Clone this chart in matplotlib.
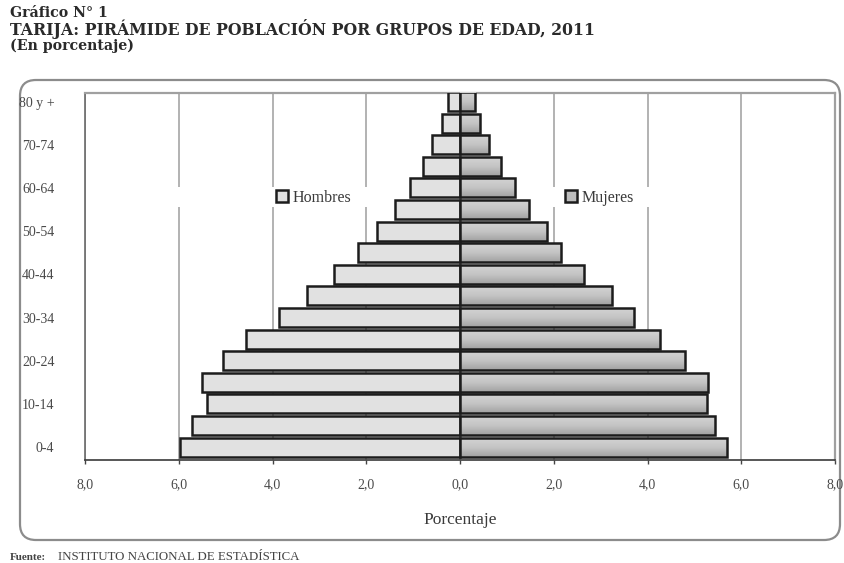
import matplotlib
matplotlib.use("Agg")
import matplotlib.pyplot as plt
from matplotlib.patches import FancyBboxPatch, Rectangle, Patch
from matplotlib.colors import LinearSegmentedColormap
import numpy as np

# Age groups (youngest first) and population share by sex, in percent
grupos = ["0-4", "5-9", "10-14", "15-19", "20-24", "25-29", "30-34", "35-39",
          "40-44", "45-49", "50-54", "55-59", "60-64", "65-69", "70-74",
          "75-79", "80 y +"]
hombres = [5.98, 5.72, 5.39, 5.50, 5.05, 4.57, 3.86, 3.27,
           2.68, 2.18, 1.78, 1.39, 1.07, 0.79, 0.59, 0.39, 0.25]
mujeres = [5.70, 5.44, 5.26, 5.29, 4.79, 4.27, 3.71, 3.24,
           2.64, 2.15, 1.85, 1.48, 1.17, 0.88, 0.62, 0.42, 0.33]

xticks = [-8, -6, -4, -2, 0, 2, 4, 6, 8]
xtick_labels = ["8,0", "6,0", "4,0", "2,0", "0,0", "2,0", "4,0", "6,0", "8,0"]

titulo1 = "Gráfico N° 1"
titulo2 = "TARIJA: PIRÁMIDE DE POBLACIÓN POR GRUPOS DE EDAD, 2011"
titulo3 = "(En porcentaje)"
fuente_lbl = "Fuente:"
fuente_txt = "INSTITUTO NACIONAL DE ESTADÍSTICA"

plt.rcParams['font.family'] = ['Liberation Serif', 'DejaVu Serif']
title_font = ['DejaVu Serif', 'Liberation Serif']

W, H = 844, 563
fig = plt.figure(figsize=(W / 100, H / 100), dpi=100)

# background canvas in pixel units for the frame and the titles
bg = fig.add_axes([0, 0, 1, 1], zorder=0)
bg.set_xlim(0, W)
bg.set_ylim(H, 0)
bg.axis("off")

frame = FancyBboxPatch((20, 80), 820, 460,
                       boxstyle="round,pad=0,rounding_size=16",
                       facecolor="white", edgecolor="#8c8c8c", linewidth=1.6)
bg.add_patch(frame)

bg.text(10, 13, titulo1, fontsize=10.2, fontweight="bold", color="#2a2a2a",
        ha="left", va="center", family=title_font)
bg.text(10, 29, titulo2, fontsize=11.3, fontweight="bold", color="#2a2a2a",
        ha="left", va="center", family=title_font)
bg.text(10, 46, titulo3, fontsize=10.2, fontweight="bold", color="#2a2a2a",
        ha="left", va="center", family=title_font)
bg.text(10, 557, fuente_lbl, fontsize=8, fontweight="bold", color="#444444",
        ha="left", va="center")
bg.text(58, 557, fuente_txt, fontsize=9.3, color="#444444",
        ha="left", va="center")

# pyramid axes
ax = fig.add_axes([85 / W, 1 - 460 / H, (835 - 85) / W, (460 - 93) / H], zorder=1)
ax.set_facecolor("none")

y = np.arange(len(grupos))
h = np.array(hombres)
m = np.array(mujeres)
bar_h = 0.88

ax.barh(y, -h, height=bar_h, color="#e1e1e1", edgecolor="#1c1c1c",
        linewidth=1.8, zorder=3)
# women's bars: outline on top, shaded fill drawn just below it
bars_m = ax.barh(y, m, height=bar_h, facecolor="none", edgecolor="#1c1c1c",
                 linewidth=1.8, zorder=3.1)

shade = LinearSegmentedColormap.from_list("shade", ["#d3d3d3", "#c4c4c4", "#a2a2a2"])
grad = np.linspace(0, 1, 64).reshape(-1, 1)
for bar in bars_m:
    x0, y0 = bar.get_x(), bar.get_y()
    bw, bh = bar.get_width(), bar.get_height()
    im = ax.imshow(grad, cmap=shade, aspect="auto", interpolation="bilinear",
                   extent=(x0, x0 + bw, y0, y0 + bh), origin="upper", zorder=3.0)
    im.set_clip_path(bar)

ax.set_xlim(-8, 8)
ax.set_ylim(-0.6, 16.4)

ax.set_xticks(xticks)
ax.set_xticklabels(xtick_labels)
ax.set_yticks(y[::2])
ax.set_yticklabels(grupos[::2])

ax.tick_params(axis="y", length=0, pad=22, labelsize=10, labelcolor="#4a4a4a")
ax.tick_params(axis="x", length=3, width=1, direction="out", pad=10,
               labelsize=10, labelcolor="#4a4a4a", color="#444444")

ax.xaxis.grid(True, color="#a6a6a6", linewidth=1.2, zorder=0.5)
ax.set_axisbelow(True)

for side in ("top", "right"):
    ax.spines[side].set_color("#a0a0a0")
    ax.spines[side].set_linewidth(1.6)
ax.spines["left"].set_color("#6a6a6a")
ax.spines["left"].set_linewidth(1.2)
ax.spines["bottom"].set_color("#3a3a3a")
ax.spines["bottom"].set_linewidth(1.2)

ax.set_xlabel("Porcentaje", fontsize=12.5, color="#3a3a3a", labelpad=15)

# white band behind the legend entries
ax.add_patch(Rectangle((-6.4, 11.1), 11.4, 0.94, facecolor="white",
                       edgecolor="none", zorder=1))

h_patch = Patch(facecolor="#e1e1e1", edgecolor="#1c1c1c", linewidth=1.8)
m_patch = Patch(facecolor="#bdbdbd", edgecolor="#1c1c1c", linewidth=1.8)

leg1 = ax.legend([h_patch], ["Hombres"], loc="center left",
                 bbox_to_anchor=(-3.93, 11.55), bbox_transform=ax.transData,
                 frameon=False, fontsize=11.5, handlelength=0.75,
                 handleheight=0.75, handletextpad=0.3, borderpad=0,
                 borderaxespad=0, labelcolor="#3a3a3a")
leg1.set_zorder(2)
ax.add_artist(leg1)
leg2 = ax.legend([m_patch], ["Mujeres"], loc="center left",
                 bbox_to_anchor=(2.24, 11.55), bbox_transform=ax.transData,
                 frameon=False, fontsize=11.5, handlelength=0.75,
                 handleheight=0.75, handletextpad=0.3, borderpad=0,
                 borderaxespad=0, labelcolor="#3a3a3a")
leg2.set_zorder(2)

fig.savefig("out.png", dpi=100)
